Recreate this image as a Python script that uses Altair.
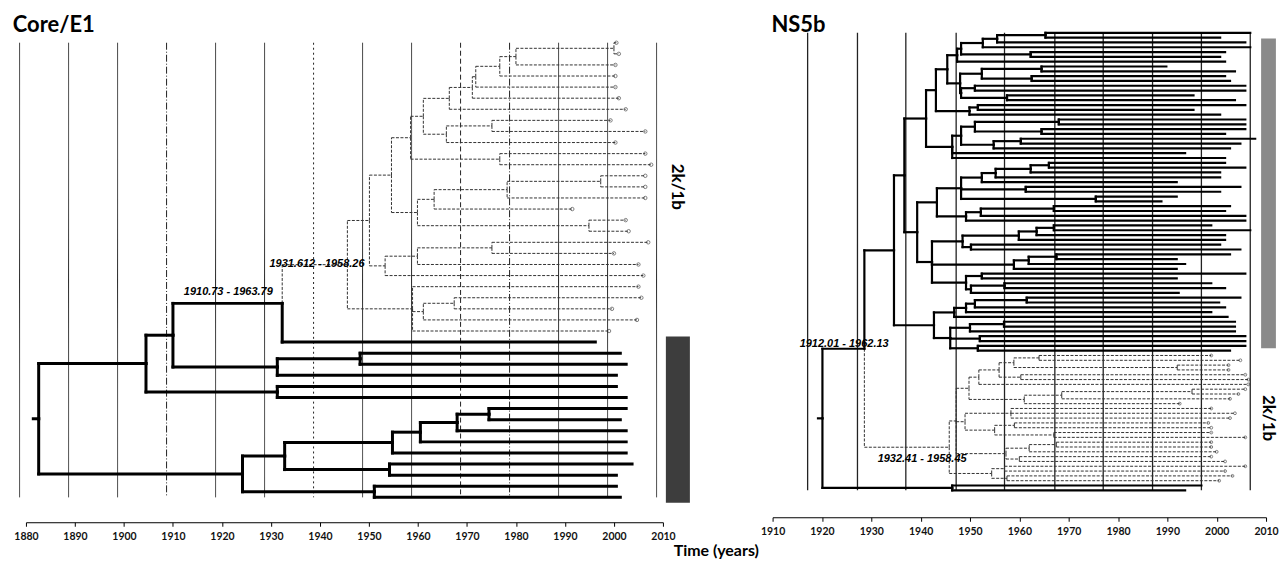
import altair as alt
import pandas as pd

# ---------------- data ----------------
core_ticks = [1880, 1890, 1900, 1910, 1920, 1930, 1940, 1950, 1960, 1970, 1980, 1990, 2000, 2010]
ns5b_ticks = [1910, 1920, 1930, 1940, 1950, 1960, 1970, 1980, 1990, 2000, 2010]

core_grid_years = [1878.7, 1888.7, 1898.7, 1908.7, 1918.7, 1928.7, 1938.7, 1948.7,
                   1958.7, 1968.7, 1978.7, 1988.7, 1998.7, 2008.7]
core_grid_dash = ["solid", "solid", "solid", "dashdot", "solid", "solid", "dotted", "solid",
                  "solid", "dashed", "dashdot", "solid", "solid", "solid"]
ns5b_grid_years = [1917.1, 1927.2, 1937.0, 1947.2, 1957.0, 1967.2, 1977.0, 1987.0, 1996.9, 2006.8]

# Core/E1 : genotype 2k/1b clade (dashed) - tip dates
core_2k_tips = [2000.5, 2001.0, 2000.3, 2000.3, 2000.3, 2001.0, 2002.4, 1999.3, 2006.4, 2000.3,
                2006.4, 2007.6, 2006.4, 2006.4, 2006.4, 1991.5, 2002.4, 2003.0, 2007.0, 2000.0,
                2005.0, 2006.0, 2005.0, 2005.6, 1999.6, 2004.7, 1999.0]
# nested lists: [node date, child, child, ...]; integers = tip number
core_2k_tree = [1945.6,
                [1950.1,
                 [1954.6,
                  [1958.5,
                   [1961.1,
                    [1966.4, [1971.1, [1971.8, [1976.7, [1980.0, [2000.0, 1, 2], 3], 4], 5], 6], 7],
                    [1965.8, [1975.1, 8, 9], 10]],
                   [1976.7, 11, 12]],
                  [1959.9, [1963.3, [1978.2, [1997.3, 13, 14], 15], 16], [1994.9, 17, 18]]],
                 [1953.3, [1959.9, [1975.1, 19, 20], 21], 22]],
                [1958.9, 23, [1961.1, [1967.4, 24, 25], 26], 27]]

# Core/E1 : genotype 1b clade (solid) - tip dates
core_1b_tips = [1996.2, 2001.3, 2002.5, 2000.5, 2000.5, 2002.5, 2002.5, 2001.3, 2002.5, 2002.5,
                2002.5, 2003.7, 2000.5, 2000.5, 2001.3]

# NS5b : genotype 1b clade (solid) - tip dates
ns5b_1b_tips = [2006.8, 2000.7, 2005.8, 2006.8, 2001.7, 2000.7, 2001.7, 1989.8, 2003.7, 2001.7,
                2002.7, 2005.8, 2005.8, 1995.3, 2003.7, 2005.8, 1995.3, 2000.7, 2005.8, 2005.8,
                2005.8, 2001.7, 2007.8, 2004.8, 2002.7, 1993.6, 2001.7, 2001.7, 2005.8, 2000.7,
                2000.7, 1991.9, 2004.8, 2000.7, 1991.9, 1988.8, 2002.7, 2001.7, 2005.8, 2005.8,
                1998.9, 2006.8, 2001.7, 2001.7, 2000.7, 2004.8, 2002.7, 1991.9, 1993.6, 1991.9,
                2005.8, 1991.9, 1998.9, 2001.7, 1992.3, 2004.8, 2000.5, 2001.7, 1998.9, 2002.2,
                2003.7, 2003.7, 2003.7, 2005.8, 2005.8, 2005.8, 2002.7]
ns5b_1b_tree = [1934.6,
                [1936.7,
                 [1941.1,
                  [1943.1,
                   [1945.4,
                    [1947.4, [1948.2, [1952.6, [1955.5, [1965.3, 1, 2], 3], 4], [1962.3, 5, 6]], 7],
                    [1948.0, [1952.4, [1964.5, 8, 9], [1962.5, 10, 11]],
                     [1948.2, [1951.0, 12, 13], [1957.5, 14, 15]]]],
                   [1949.9, [1951.6, 16, 17], 18]],
                  [1946.4, [1948.2, [1951.0, [1968.0, 19, 20], [1964.5, 21, 22]],
                            [1954.8, [1960.3, 23, 24], 25]], 26, 27]],
                 [1939.3,
                  [1943.3,
                   [1948.2, [1952.4, [1955.2, [1962.3, [1966.0, 28, 29], 30], 31], 32],
                    [1961.3, 33, 34], [1975.5, 35, 36]],
                   [1949.2, [1952.2, [1967.0, 37, 38], 39], 40]],
                  [1942.3,
                   [1948.5, [1959.9, [1963.5, [1967.0, 41, 42], 43], 44], [1950.2, 45, 46]],
                   [1958.9, [1961.9, [1967.5, 47, 48], 49], 50],
                   [1949.2, [1952.4, 51, 52], [1950.2, [1957.0, 53, 54], 55]]]]],
                [1942.7,
                 [1946.8, [1949.2, [1951.0, [1961.5, 56, 57], 58], 59], 60],
                 [1946.0, [1950.0, [1956.9, 61, 62], 63], [1952.0, 64, 65], [1951.6, 66, 67]]]]

# NS5b : genotype 2k/1b clade (dashed) - tip dates
ns5b_2k_tips = [1998.9, 2004.8, 2002.4, 2002.4, 2005.8, 2006.4, 2006.4, 2005.8, 2004.4, 2002.7,
                1992.5, 1998.9, 2003.7, 2002.7, 1998.3, 1998.9, 1998.9, 2005.8, 1998.9, 1998.9,
                2000.0, 1998.9, 2001.7, 2005.8, 2001.7, 2003.2, 2000.5]
ns5b_2k_tree = [1945.8,
                [1947.2,
                 [1949.8,
                  [1951.8,
                   [1955.9,
                    [1958.9, [1964.0, 1, 2], [1992.0, 3, 4]],
                    [1960.3, 5, 6]],
                   7],
                  [1961.0, [1968.6, [1995.0, 8, 9], 10], 11]],
                 [1949.0,
                  [1958.3, 12, 13, 14],
                  [1955.0, [1959.0, 15, 16], [1967.0, 17, 18]]],
                 [1952.0,
                  [1957.3, [1962.0, [1967.5, 19, 20], 21], [1960.0, 22, 23]]]],
                [1954.4, [1957.0, 24, 25], [1957.5, 26, 27]]]

# NS5b : outgroup pair at the bottom - tip dates
ns5b_out_tips = [1996.9, 1993.6]

core_ci = ["1931.612 - 1958.26", "1910.73 - 1963.79"]
ns5b_ci = ["1912.01 - 1962.13", "1932.41 - 1958.45"]

# ---------------- tree assembly ----------------
core_2k = {"style": "dashed", "tips": core_2k_tips, "tree": core_2k_tree}
core_tree = {"style": "solid", "tips": core_1b_tips, "tree":
             [1882.6,
              [1904.5,
               [1910.0,
                [1932.3, core_2k, 1],
                [1931.3, [1948.2, 2, 3], 4]],
               [1931.3, 5, 6]],
              [1924.2,
               [1932.8,
                [1954.8, [1960.5, [1968.0, [1974.5, 7, 8], 9], 10], 11],
                [1954.2, 12, 13]],
               [1951.1, 14, 15]]]}

ns5b_1b = {"style": "solid", "tips": ns5b_1b_tips, "tree": ns5b_1b_tree}
ns5b_2k = {"style": "dashed", "tips": ns5b_2k_tips, "tree": ns5b_2k_tree}
ns5b_tree = {"style": "solid", "tips": ns5b_out_tips, "tree":
             [1920.1, [1928.6, ns5b_1b, ns5b_2k], [1946.4, 1, 2]]}


def layout(clade, stub):
    segs, tips, counter, ranges = [], [], [0], {}

    def walk(node, parent_t, style, tipset):
        if isinstance(node, dict):
            first = counter[0] + 1
            res = walk(node["tree"], parent_t, node["style"], node["tips"])
            ranges[id(node)] = (first, counter[0])
            return res
        if isinstance(node, int):
            t = tipset[node - 1]
            counter[0] += 1
            y = counter[0]
            segs.append(dict(x=parent_t, x2=t, y=y, y2=y, style=style))
            tips.append(dict(x=t, y=y, style=style))
            return y, style
        t = node[0]
        kids = [walk(c, t, style, tipset) for c in node[1:]]
        y = (kids[0][0] + kids[-1][0]) / 2
        for cy, cst in kids:
            segs.append(dict(x=t, x2=t, y=y, y2=cy, style=cst))
        segs.append(dict(x=parent_t, x2=t, y=y, y2=y, style=style))
        return y, style

    walk(clade["tree"], clade["tree"][0] - stub, clade["style"], clade["tips"])
    return pd.DataFrame(segs), pd.DataFrame(tips), counter[0], ranges


core_segs, core_tipdf, core_n, core_ranges = layout(core_tree, 1.1)
ns_segs, ns_tipdf, ns_n, ns_ranges = layout(ns5b_tree, 0.9)

FONT = "Lato"


def make_panel(segs, tipdf, n_leaves, grid_df, xdom, ydom, axis, width, height,
               title, title_dx, solid_w, grid_w, tip_size, bar_df, bar_color,
               label_df, ci_df):
    xs = alt.Scale(domain=xdom, nice=False, zero=False)
    ys = alt.Scale(domain=ydom, reverse=True, nice=False, zero=False)
    X = alt.X("x:Q", scale=xs, axis=axis)
    Y = alt.Y("y:Q", scale=ys, axis=None)

    grid = alt.Chart(grid_df).mark_rule(color="#222", strokeWidth=grid_w).encode(
        x=X, y=Y, y2="y2:Q",
        strokeDash=alt.StrokeDash("dash:N", legend=None, scale=alt.Scale(
            domain=["solid", "dashed", "dashdot", "dotted"],
            range=[[1, 0], [5, 3], [7, 2, 1, 2], [2, 3]])))
    solid = alt.Chart(segs[segs["style"] == "solid"]).mark_rule(
        color="black", strokeWidth=solid_w, strokeCap="square").encode(
        x=X, x2="x2:Q", y=Y, y2="y2:Q")
    dashed = alt.Chart(segs[segs["style"] == "dashed"]).mark_rule(
        color="#333", strokeWidth=1, strokeDash=[3, 1.5]).encode(
        x=X, x2="x2:Q", y=Y, y2="y2:Q")
    tipm = alt.Chart(tipdf[tipdf["style"] == "dashed"]).mark_point(
        shape="circle", filled=False, size=tip_size, color="#222", strokeWidth=0.8).encode(x=X, y=Y)
    bar = alt.Chart(bar_df).mark_rect(color=bar_color).encode(x=X, x2="x2:Q", y=Y, y2="y2:Q")
    lab = alt.Chart(label_df).mark_text(
        angle=90, font=FONT, fontSize=17, fontWeight="bold", color="black").encode(
        x=X, y=Y, text="text:N")
    ci = alt.Chart(ci_df).mark_text(
        font="Liberation Sans", fontSize=11, fontWeight="bold", fontStyle="italic",
        color="black").encode(x=X, y=Y, text="text:N")
    return alt.layer(grid, dashed, solid, tipm, bar, lab, ci).properties(
        width=width, height=height,
        title=alt.TitleParams(title, anchor="start", dx=title_dx, dy=6, fontSize=22,
                              font=FONT, fontWeight="bold", color="black", offset=0))


axis_style = dict(format="d", labelFont=FONT, labelFontSize=10.5, labelFontWeight="bold",
                  labelColor="#111", labelPadding=5, tickSize=4, tickColor="black",
                  domainColor="black", grid=False, labelFlush=False)

# ----- Core/E1 panel -----
core_grid = pd.DataFrame({"x": core_grid_years, "dash": core_grid_dash,
                          "y": [1] * len(core_grid_years), "y2": [core_n] * len(core_grid_years)})
c2k_first, c2k_last = core_ranges[id(core_2k)]
core_bar = pd.DataFrame({"x": [2010.6], "x2": [2015.5], "y": [c2k_last + 0.5], "y2": [core_n + 0.5]})
core_lab = pd.DataFrame({"x": [2012.9], "y": [(c2k_first + c2k_last) / 2], "text": ["2k/1b"]})
core_cidf = pd.DataFrame({"x": [1939.4, 1921.3], "y": [21.0, 23.5], "text": core_ci})
core_axis = alt.Axis(values=core_ticks, title="Time (years)", titleX=692, titleY=28,
                     titleAlign="center", titleBaseline="middle", titleFont=FONT,
                     titleFontSize=16, titleFontWeight="bold", titleColor="black", **axis_style)
left = make_panel(core_segs, core_tipdf, core_n, core_grid, [1880, 2010], [-0.079, 44.25],
                  core_axis, 639, 493, "Core/E1", -1, 3, 1, 12, core_bar, "#3d3d3d",
                  core_lab, core_cidf)

# ----- NS5b panel -----
ns_grid = pd.DataFrame({"x": ns5b_grid_years, "dash": ["solid"] * len(ns5b_grid_years),
                        "y": [1] * len(ns5b_grid_years), "y2": [ns_n] * len(ns5b_grid_years)})
n1b_first, n1b_last = ns_ranges[id(ns5b_1b)]
n2k_first, n2k_last = ns_ranges[id(ns5b_2k)]
ns_bar = pd.DataFrame({"x": [2009.0], "x2": [2012.0], "y": [n1b_first + 1.2], "y2": [n1b_last - 0.5]})
ns_lab = pd.DataFrame({"x": [2010.4], "y": [(n2k_first + n2k_last) / 2], "text": ["2k/1b"]})
ns_cidf = pd.DataFrame({"x": [1924.5, 1940.3], "y": [65.6, 89.5], "text": ns5b_ci})
ns_axis = alt.Axis(values=ns5b_ticks, title=None, **axis_style)
right = make_panel(ns_segs, ns_tipdf, ns_n, ns_grid, [1910, 2010], [0.586, 101.59],
                   ns_axis, 495, 488, "NS5b", 11, 2.2, 1.3, 8, ns_bar, "#8a8a8a",
                   ns_lab, ns_cidf)

chart = alt.hconcat(left, right, spacing=110, bounds="flush").properties(
    padding={"left": 4, "top": 5, "right": 0, "bottom": 0},
).configure_view(stroke=None)

chart.save("out.html", embed_options={"renderer": "svg", "actions": False})
